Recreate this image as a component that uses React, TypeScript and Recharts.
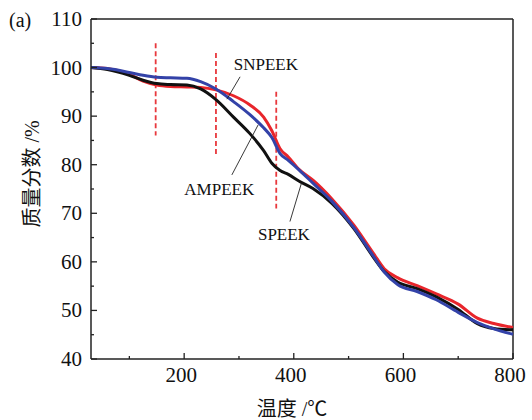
import React from "react";
import {
  LineChart,
  Line,
  XAxis,
  YAxis,
  ReferenceLine,
  ReferenceDot,
} from "recharts";

// temperature grid (°C)
const temps = [30, 60, 100, 125, 150, 175, 205, 230, 258, 290, 320, 345, 360, 375, 390, 410, 435, 470, 510, 545, 565, 590, 625, 660, 700, 735, 765, 800];

// mass fraction (%)
const snpeek = [100.0, 99.8, 98.6, 97.2, 96.4, 96.1, 96.0, 95.9, 95.4, 94.2, 92.3, 89.8, 87.0, 83.3, 81.6, 79.0, 76.8, 72.9, 67.5, 61.8, 58.6, 56.7, 55.1, 53.4, 51.3, 48.4, 47.3, 46.5];
const ampeek = [100.0, 99.8, 99.0, 98.4, 98.0, 97.9, 97.8, 97.1, 95.6, 93.0, 90.3, 87.6, 85.6, 82.3, 80.9, 78.9, 76.2, 72.4, 67.0, 61.2, 57.9, 55.3, 53.9, 52.2, 49.6, 47.5, 46.2, 45.1];
const speek = [100.0, 99.6, 98.4, 97.4, 96.7, 96.5, 96.4, 95.6, 93.4, 89.8, 86.4, 82.9, 80.3, 78.8, 78.0, 76.6, 75.1, 72.0, 66.8, 61.0, 58.0, 55.8, 54.5, 52.8, 50.2, 47.3, 46.3, 46.0];

const xTicks = [100, 200, 300, 400, 500, 600, 700, 800];
const yTicks = [40, 45, 50, 55, 60, 65, 70, 75, 80, 85, 90, 95, 100, 105, 110];

// red dashed markers: [x, yTop, yBottom]
const markers = [
  [148, 105, 86],
  [258, 103, 82],
  [368, 95, 71],
];

// labels: text, text position, leader start, leader end
const labels = [
  { text: "SNPEEK", x: 349, y: 100.7, x1: 302, y1: 98.1, x2: 278, y2: 93.5 },
  { text: "AMPEEK", x: 264, y: 75.0, x1: 287, y1: 77.9, x2: 335, y2: 88.2 },
  { text: "SPEEK", x: 382, y: 65.7, x1: 393, y1: 68.3, x2: 414, y2: 76.2 },
];

const data = temps.map((t, i) => ({
  t,
  snpeek: snpeek[i],
  ampeek: ampeek[i],
  speek: speek[i],
}));

const serif = "Liberation Serif, Noto Sans CJK SC, serif";

const XTick = (props: any) => {
  const { x, y, payload } = props;
  const major = payload.value % 200 === 0;
  return (
    <g>
      <line x1={x} x2={x} y1={y} y2={y - (major ? 6 : 3)} stroke="#222" strokeWidth={1.3} />
      {major && (
        <text x={x - 3} y={y + 23} textAnchor="middle" fontFamily={serif} fontSize={21} fill="#111">
          {payload.value}
        </text>
      )}
    </g>
  );
};

const YTick = (props: any) => {
  const { x, y, payload } = props;
  const major = payload.value % 10 === 0;
  return (
    <g>
      <line x1={x} x2={x + (major ? 6 : 3)} y1={y} y2={y} stroke="#222" strokeWidth={1.3} />
      {major && (
        <text x={x - 9} y={y + 7} textAnchor="end" fontFamily={serif} fontSize={21} fill="#111">
          {payload.value}
        </text>
      )}
    </g>
  );
};

export default function App() {
  return (
    <div style={{ position: "absolute", left: 0, top: 0, width: 532, height: 420, background: "#fff" }}>
      <LineChart width={532} height={420} data={data} margin={{ top: 19, right: 19, bottom: 0, left: 0 }}>
        <XAxis
          dataKey="t"
          type="number"
          domain={[30, 800]}
          ticks={xTicks}
          interval={0}
          height={61}
          tickLine={false}
          tickSize={0}
          tickMargin={0}
          tick={<XTick />}
          axisLine={{ stroke: "#222", strokeWidth: 1.5 }}
          label={{
            content: () => (
              <text x={292} y={416} textAnchor="middle" fontFamily={serif} fontSize={20} fill="#111">
                温度 /℃
              </text>
            ),
          }}
        />
        <YAxis
          type="number"
          domain={[40, 110]}
          ticks={yTicks}
          interval={0}
          width={91}
          tickLine={false}
          tickSize={0}
          tickMargin={0}
          tick={<YTick />}
          axisLine={{ stroke: "#222", strokeWidth: 1.5 }}
          label={{
            content: () => (
              <g>
                <text
                  x={0}
                  y={0}
                  transform="translate(39 174) rotate(-90)"
                  textAnchor="middle"
                  fontFamily={serif}
                  fontSize={20}
                  fill="#111"
                >
                  质量分数 /%
                </text>
                <text x={9} y={27} fontFamily={serif} fontSize={20} fill="#111">
                  (a)
                </text>
              </g>
            ),
          }}
        />
        <ReferenceLine y={110} stroke="#222" strokeWidth={1.5} />
        <ReferenceLine x={800} stroke="#222" strokeWidth={1.5} />
        {markers.map(([mx, top, bottom], i) => (
          <ReferenceLine
            key={"m" + i}
            segment={[
              { x: mx, y: top },
              { x: mx, y: bottom },
            ]}
            stroke="#e8383d"
            strokeWidth={1.8}
            strokeDasharray="5 3"
          />
        ))}
        <Line type="monotone" dataKey="snpeek" stroke="#e8252b" strokeWidth={3} dot={false} isAnimationActive={false} />
        <Line type="monotone" dataKey="speek" stroke="#111111" strokeWidth={3} dot={false} isAnimationActive={false} />
        <Line type="monotone" dataKey="ampeek" stroke="#3342a8" strokeWidth={3} dot={false} isAnimationActive={false} />
        {labels.map((l) => (
          <ReferenceLine
            key={"l" + l.text}
            segment={[
              { x: l.x1, y: l.y1 },
              { x: l.x2, y: l.y2 },
            ]}
            stroke="#222"
            strokeWidth={0.9}
          />
        ))}
        {labels.map((l) => (
          <ReferenceDot
            key={"d" + l.text}
            x={l.x}
            y={l.y}
            r={0}
            stroke="none"
            fill="none"
            label={{ value: l.text, position: "center", fontFamily: serif, fontSize: 17, fill: "#111" }}
          />
        ))}
      </LineChart>
    </div>
  );
}
